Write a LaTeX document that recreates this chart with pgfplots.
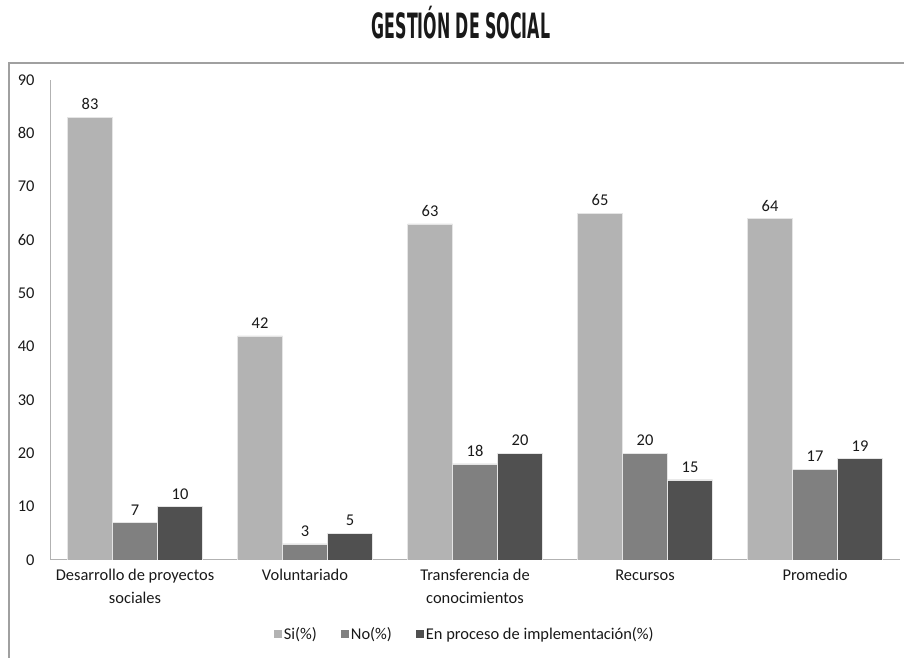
\documentclass[border=0pt]{standalone}
\usepackage{pgfplots}
\pgfplotsset{compat=1.18}
\usepackage{fontspec}
\setmainfont{Carlito}
\newfontfamily\titlefont{DejaVu Sans Condensed}
\definecolor{siC}{RGB}{179,179,179}
\definecolor{noC}{RGB}{128,128,128}
\definecolor{enC}{RGB}{80,80,80}
\definecolor{frameC}{RGB}{160,160,160}
\begin{document}
\begin{tikzpicture}[x=1bp,y=1bp]
\useasboundingbox (0,0) rectangle (904,658);
\draw[frameC, line width=1.6bp] (9,0) -- (9,595) -- (904,595);
\node[font=\titlefont\bfseries\fontsize{35}{37}\selectfont, text=black!90, inner sep=0pt] at (461,635) {\scalebox{0.505}[1]{GESTIÓN DE SOCIAL}};
\begin{axis}[
  at={(135bp,98bp)}, anchor=origin,
  width=850bp, height=480bp, scale only axis,
  xmin=-0.5, xmax=4.5, ymin=0, ymax=90,
  ytick={0,10,...,90},
  xtick={0,1,2,3,4},
  xticklabels={{Desarrollo de proyectos\\sociales},{Voluntariado},{Transferencia de\\conocimientos},{Recursos},{Promedio}},
  xticklabel style={align=center, font=\fontsize{16.5}{23}\selectfont, text=black!90, yshift=-6bp},
  yticklabel style={font=\fontsize{16.5}{18}\selectfont, text=black!90, xshift=-12bp},
  /pgf/number format/assume math mode=true,
  major tick length=0pt,
  axis x line=bottom, axis y line=left,
  axis line style={draw=black!30, line width=1bp, -},
  ybar=0pt, bar width=45bp,
  nodes near coords,
  nodes near coords style={font=\fontsize{16.5}{18}\selectfont, text=black!90, yshift=4bp},
  legend style={at={(0.488,-0.154)}, anchor=center, draw=none, legend columns=3,
    font=\fontsize{16.5}{18}\selectfont, text=black!90,
    /tikz/every even column/.append style={column sep=22bp}},
  legend image code/.code={\fill[#1, draw=none] (0bp,-4bp) rectangle (8bp,4bp);},
]
\addplot[fill=siC, draw=black!10] coordinates {(0,83) (1,42) (2,63) (3,65) (4,64)};
\addplot[fill=noC, draw=black!10] coordinates {(0,7) (1,3) (2,18) (3,20) (4,17)};
\addplot[fill=enC, draw=black!10] coordinates {(0,10) (1,5) (2,20) (3,15) (4,19)};
\legend{Si(\%), No(\%), En proceso de implementación(\%)}
\end{axis}
\end{tikzpicture}
\end{document}
